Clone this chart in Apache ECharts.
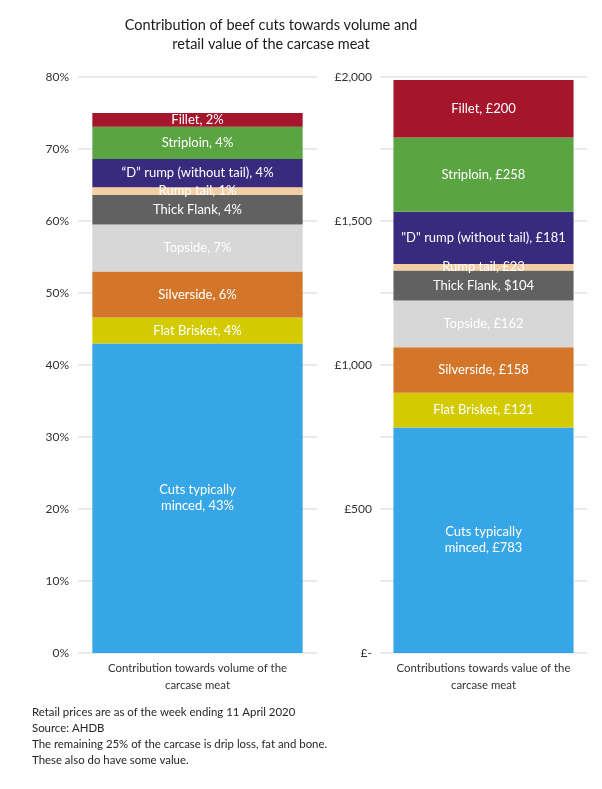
<!DOCTYPE html>
<html>
<head>
<meta charset="utf-8">
<script src="https://cdn.jsdelivr.net/npm/echarts@6/dist/echarts.min.js"></script>
<style>html,body{margin:0;padding:0;background:#fff;}#c{width:602px;height:789px;}</style>
</head>
<body>
<div id="c"></div>
<script>
// ---- data ----
var cutNames = ['Cuts typically minced', 'Flat Brisket', 'Silverside', 'Topside', 'Thick Flank', 'Rump tail', '"D" rump (without tail)', 'Striploin', 'Fillet'];
var volumePct = [43, 3.6, 6.4, 6.5, 4.1, 1.1, 3.9, 4.5, 1.9];
var valueGbp = [783, 121, 158, 162, 104, 23, 181, 258, 200];
var volumeLabels = ['Cuts typically\nminced, 43%', 'Flat Brisket, 4%', 'Silverside, 6%', 'Topside, 7%', 'Thick Flank, 4%', 'Rump tail, 1%', '\u201cD\u201d rump (without tail), 4%', 'Striploin, 4%', 'Fillet, 2%'];
var valueLabels = ['Cuts typically\nminced, \u00a3783', 'Flat Brisket, \u00a3121', 'Silverside, \u00a3158', 'Topside, \u00a3162', 'Thick Flank, $104', 'Rump tail, \u00a323', '"D" rump (without tail), \u00a3181', 'Striploin, \u00a3258', 'Fillet, \u00a3200'];
var volumeCategory = ['Contribution towards volume of the\ncarcase meat'];
var valueCategory = ['Contributions towards value of the\ncarcase meat'];
var colors = ['#36a6e6', '#d3cb00', '#d4762a', '#d7d7d7', '#616161', '#f3cfa3', '#382a7d', '#5ba442', '#a5152c'];
var titleText = 'Contribution of beef cuts towards volume and\nretail value of the carcase meat';
var footnote = 'Retail prices are as of the week ending 11 April 2020\nSource: AHDB\nThe remaining 25% of the carcase is drip loss, fat and bone.\nThese also do have some value.';

var FONT = 'Lato';
var series = [];
cutNames.forEach(function (name, i) {
  series.push({
    name: name, type: 'bar', stack: 'vol', xAxisIndex: 0, yAxisIndex: 0,
    barWidth: '88%',
    data: [volumePct[i]],
    itemStyle: { color: colors[i] },
    label: { show: true, position: 'inside', formatter: volumeLabels[i], color: '#fff', fontSize: 13, fontFamily: FONT, lineHeight: 16 }
  });
  series.push({
    name: name, type: 'bar', stack: 'val', xAxisIndex: 1, yAxisIndex: 1,
    barWidth: '87%',
    data: [valueGbp[i]],
    itemStyle: { color: colors[i] },
    label: { show: true, position: 'inside', formatter: valueLabels[i], color: '#fff', fontSize: 13, fontFamily: FONT, lineHeight: 16 }
  });
});

var chart = echarts.init(document.getElementById('c'), null, { renderer: 'canvas' });
chart.setOption({
  animation: false,
  textStyle: { fontFamily: FONT },
  title: [
    { text: titleText, left: 271, top: 16, textAlign: 'center', padding: 0,
      textStyle: { fontSize: 14.5, fontWeight: 'normal', color: '#1a1a1a', fontFamily: FONT, lineHeight: 19 } },
    { text: footnote, left: 32, top: 704, padding: 0,
      textStyle: { fontSize: 11.4, fontWeight: 'normal', color: '#262626', fontFamily: FONT, lineHeight: 16 } }
  ],
  grid: [
    { left: 78, right: 285, top: 77, bottom: 136 },
    { left: 380, right: 15, top: 77, bottom: 136 }
  ],
  xAxis: [
    { type: 'category', gridIndex: 0, data: volumeCategory,
      axisLine: { show: false }, axisTick: { show: false },
      axisLabel: { color: '#333', fontSize: 11.4, lineHeight: 17, margin: 7, fontFamily: FONT } },
    { type: 'category', gridIndex: 1, data: valueCategory,
      axisLine: { show: false }, axisTick: { show: false },
      axisLabel: { color: '#333', fontSize: 11.4, lineHeight: 17, margin: 7, fontFamily: FONT } }
  ],
  yAxis: [
    { type: 'value', gridIndex: 0, min: 0, max: 80, interval: 10,
      axisLine: { show: false }, axisTick: { show: false },
      splitLine: { lineStyle: { color: '#e3e3e3', width: 1.5 } },
      axisLabel: { color: '#333', fontSize: 12, margin: 9, fontFamily: FONT, formatter: function (v) { return v + '%'; } } },
    { type: 'value', gridIndex: 1, min: 0, max: 2000, interval: 250,
      axisLine: { show: false }, axisTick: { show: false },
      splitLine: { lineStyle: { color: '#e3e3e3', width: 1.5 } },
      axisLabel: { color: '#333', fontSize: 12, margin: 8, fontFamily: FONT,
        formatter: function (v) {
          if (v === 0) return '\u00a3-';
          if (v % 500 !== 0) return '';
          return '\u00a3' + v.toLocaleString('en-GB');
        } } }
  ],
  series: series
});
</script>
</body>
</html>
